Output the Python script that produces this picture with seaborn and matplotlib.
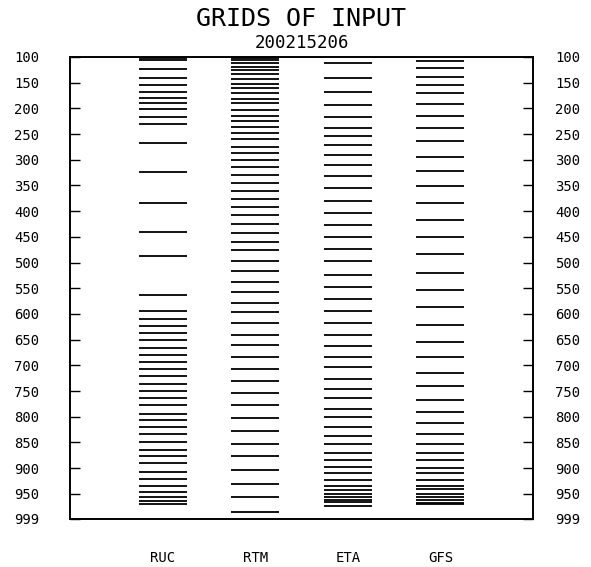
import numpy as np
import pandas as pd
import matplotlib
matplotlib.use("Agg")
import matplotlib.pyplot as plt
import seaborn as sns

# Vertical levels (hPa) carried by each input grid
models = ["RUC", "RTM", "ETA", "GFS"]

ruc_levels = [102, 106, 124, 141, 154, 168, 180, 190, 201, 217, 230, 267, 324,
              384, 441, 487, 564, 594, 610, 624, 637, 650, 667, 680, 694, 707,
              721, 737, 750, 764, 777, 794, 807, 820, 834, 850, 864, 877, 891,
              907, 921, 934, 947, 957, 964, 970]

rtm_levels = [102, 106, 112, 120, 126, 133, 143, 153, 160, 170, 181, 190, 203,
              214, 224, 237, 247, 260, 275, 287, 300, 314, 330, 345, 361, 377,
              391, 407, 424, 443, 460, 476, 497, 517, 537, 558, 578, 597, 617,
              640, 660, 684, 707, 730, 754, 777, 803, 827, 853, 876, 903, 930,
              956, 986]

eta_levels = [111, 141, 168, 194, 217, 238, 254, 271, 291, 311, 331, 354, 380,
              404, 427, 450, 474, 497, 524, 547, 571, 594, 617, 640, 663, 684,
              704, 727, 746, 764, 784, 800, 820, 837, 854, 870, 884, 897, 910,
              924, 934, 943, 950, 957, 962, 966, 973]

gfs_levels = [108, 121, 138, 154, 171, 191, 214, 238, 264, 294, 321, 351, 384,
              417, 451, 484, 521, 554, 587, 621, 654, 684, 714, 741, 767, 790,
              813, 834, 854, 870, 884, 900, 910, 924, 934, 940, 950, 957, 963,
              967, 970]

pressure_ticks = [100, 150, 200, 250, 300, 350, 400, 450, 500, 550, 600, 650,
                  700, 750, 800, 850, 900, 950, 999]
tick_labels = ["100", "150", "200", "250", "300", "350", "400", "450", "500",
               "550", "600", "650", "700", "750", "800", "850", "900", "950",
               "999"]

title = "GRIDS OF INPUT"
subtitle = "200215206"

level_sets = [ruc_levels, rtm_levels, eta_levels, gfs_levels]
df = pd.DataFrame(
    [(m, p) for m, lev in zip(models, level_sets) for p in lev],
    columns=["model", "pressure"],
)

sns.set_theme(style="white")
plt.rcParams["font.family"] = ["DejaVu Sans Mono", "DejaVu Sans"]

W, H = 591, 567
fig = plt.figure(figsize=(W / 100, H / 100), dpi=100)
ax = fig.add_axes([70 / W, 1 - 519 / H, (533 - 70) / W, (519 - 57) / H])

# each level drawn as a short horizontal dash in its model column
seg_pts = 48 * 72 / 100
sns.scatterplot(data=df, x="model", y="pressure", marker="_",
                s=seg_pts ** 2, color="black", linewidth=1.3,
                legend=False, ax=ax)

ax.set_xlim(-1, len(models))
ax.set_ylim(999, 100)
ax.set_xticks(range(len(models)))
ax.set_xticklabels(models)
ax.set_xlabel("")
ax.set_ylabel("")
ax.tick_params(axis="x", length=0, pad=23, labelsize=10, colors="black")
ax.set_yticks(pressure_ticks)
ax.set_yticklabels(tick_labels)
ax.tick_params(axis="y", direction="in", length=7, width=1.0, pad=22,
               labelsize=10, colors="black")

ax2 = ax.twinx()
ax2.set_ylim(999, 100)
ax2.set_yticks(pressure_ticks)
ax2.set_yticklabels(tick_labels)
ax2.tick_params(axis="y", direction="in", length=7, width=1.0, pad=16,
                labelsize=10, colors="black")
ax2.grid(False)

for a in (ax, ax2):
    for sp in a.spines.values():
        sp.set_color("black")
        sp.set_linewidth(1.2)

cx = (70 + 533) / 2 / W
fig.text(cx, 1 - 19 / H, title, ha="center", va="center", fontsize=18,
         color="black")
fig.text(cx, 1 - 43 / H, subtitle, ha="center", va="center", fontsize=12.5,
         color="black")

fig.savefig("out.png", dpi=100)
